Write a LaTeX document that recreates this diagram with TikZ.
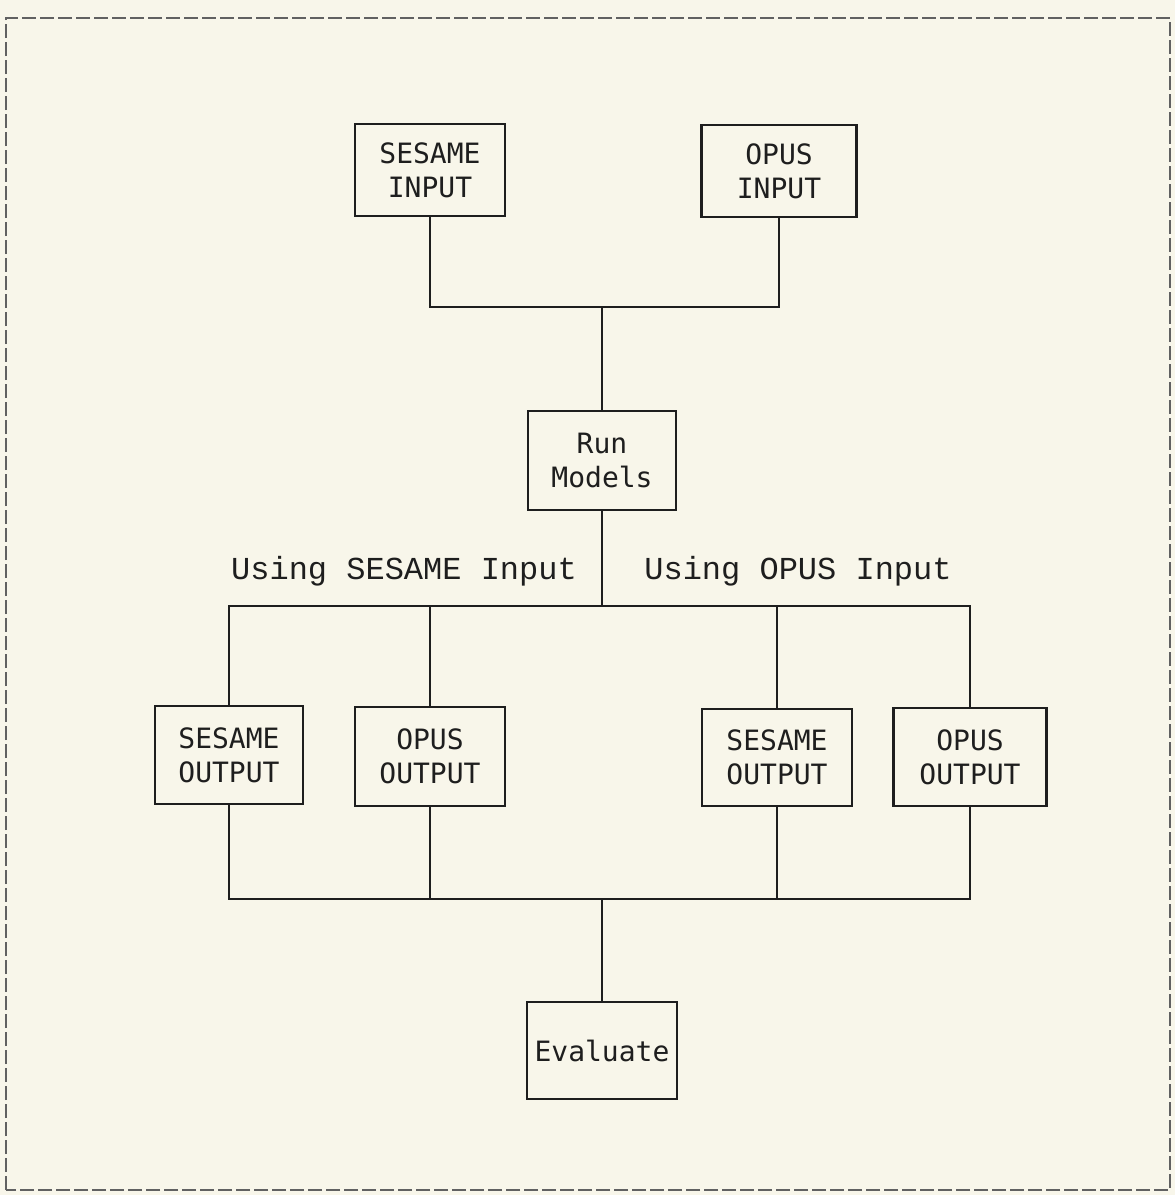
\documentclass[tikz,border=0pt]{standalone}
\usepackage{fontspec}
\newfontfamily\boxfont{DejaVu Sans Mono}
\newfontfamily\labfont{Liberation Mono}
\definecolor{paper}{HTML}{F8F6EA}
\definecolor{ink}{HTML}{1E1E1E}
\begin{document}
\begin{tikzpicture}[x=1pt,y=-1pt,
  blk/.style={draw=ink,line width=2.6pt,inner sep=0pt,align=center,
    font=\boxfont\fontsize{28}{34}\selectfont,text=ink},
  wire/.style={draw=ink,line width=2pt},
  lab/.style={font=\labfont\fontsize{32}{36}\selectfont,text=ink,inner sep=0pt},
  frame/.style={draw=ink!70,line width=1.8pt,dash pattern=on 14pt off 4pt}]
\fill[paper] (0,0) rectangle (1175,1195);
\useasboundingbox (0,0) rectangle (1175,1195);
\draw[frame] (6,1190) -- (6,18) -- (1170,18) -- (1170,1190) -- cycle;
% boxes
\node[blk,minimum width=150pt,minimum height=92pt] (sin) at (430,170) {SESAME\\INPUT};
\node[blk,minimum width=155pt,minimum height=92pt] (oin) at (779,171) {OPUS\\INPUT};
\node[blk,minimum width=148pt,minimum height=99pt] (run) at (602,460.5) {Run\\Models};
\node[blk,minimum width=148pt,minimum height=98pt] (so1) at (229,755) {SESAME\\OUTPUT};
\node[blk,minimum width=150pt,minimum height=99pt] (oo1) at (430,756.5) {OPUS\\OUTPUT};
\node[blk,minimum width=150pt,minimum height=97pt] (so2) at (777,757.5) {SESAME\\OUTPUT};
\node[blk,minimum width=153pt,minimum height=98pt] (oo2) at (970,757) {OPUS\\OUTPUT};
\node[blk,minimum width=150pt,minimum height=97pt] (ev) at (602,1050.5) {Evaluate};
% labels
\node[lab] (l1) at (404,571) {Using SESAME Input};
\node[lab] (l2) at (798,571) {Using OPUS Input};
% junction coordinates
\coordinate (j1) at (602,307);
\coordinate (j2) at (602,606);
\coordinate (j3) at (602,899);
% top connectors
\draw[wire] (sin.south) -- (sin.south |- j1) -- (oin.south |- j1) -- (oin.south);
\draw[wire] (j1) -- (run.north);
% middle
\draw[wire] (run.south) -- (j2);
\draw[wire] (so1.north) -- (so1.north |- j2) -- (oo2.north |- j2) -- (oo2.north);
\draw[wire] (oo1.north |- j2) -- (oo1.north);
\draw[wire] (so2.north |- j2) -- (so2.north);
% bottom
\draw[wire] (so1.south) -- (so1.south |- j3) -- (oo2.south |- j3) -- (oo2.south);
\draw[wire] (oo1.south) -- (oo1.south |- j3);
\draw[wire] (so2.south) -- (so2.south |- j3);
\draw[wire] (j3) -- (ev.north);
\end{tikzpicture}
\end{document}
